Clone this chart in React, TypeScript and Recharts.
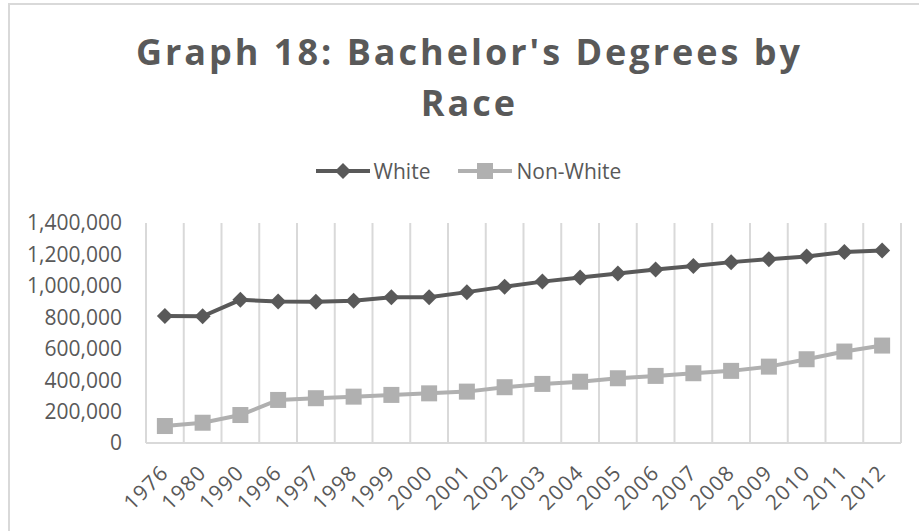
import React from "react";
import { LineChart, Line, XAxis, YAxis, CartesianGrid } from "recharts";

// Bachelor's degrees conferred, by race of student
const years = [
  "1976", "1980", "1990", "1996", "1997", "1998", "1999", "2000", "2001", "2002", "2003",
  "2004", "2005", "2006", "2007", "2008", "2009", "2010", "2011", "2012",
];
const white = [
  808000, 806000, 911000, 900000, 899000, 905000, 928000, 927000, 960000, 995000, 1027000,
  1053000, 1078000, 1104000, 1127000, 1151000, 1170000, 1187000, 1215000, 1225000,
];
const nonWhite = [
  108000, 129000, 178000, 274000, 285000, 295000, 306000, 316000, 327000, 355000, 376000,
  390000, 412000, 427000, 444000, 459000, 486000, 533000, 582000, 620000,
];
const yTicks = [0, 200000, 400000, 600000, 800000, 1000000, 1200000, 1400000];

const data = years.map((year, i) => ({ year, white: white[i], nonWhite: nonWhite[i] }));

const DARK = "#595959";
const LIGHT = "#b0b0b0";
const FONT = "'Open Sans', sans-serif";
const PLOT_W = 919 - 146 - 18;
const HALF_BAND = PLOT_W / years.length / 2;

function Diamond({ cx, cy }: any) {
  if (cx == null || cy == null) return null;
  const r = 8;
  return <polygon points={`${cx},${cy - r} ${cx + r},${cy} ${cx},${cy + r} ${cx - r},${cy}`} fill={DARK} />;
}

function Square({ cx, cy }: any) {
  if (cx == null || cy == null) return null;
  return <rect x={cx - 8} y={cy - 8} width={16} height={16} fill={LIGHT} />;
}

function YearTick({ x, y, payload }: any) {
  const ax = x + 5;
  const ay = y + 25;
  return (
    <text
      x={ax}
      y={ay}
      transform={`rotate(-45 ${ax} ${ay})`}
      textAnchor="end"
      fill={DARK}
      fontSize={21}
      letterSpacing={1.2}
      fontFamily={FONT}
    >
      {payload.value}
    </text>
  );
}

export default function App() {
  return (
    <div style={{ position: "absolute", left: 0, top: 0, width: 919, height: 531, background: "#fff", overflow: "hidden" }}>
      <div style={{ position: "absolute", left: 8, top: 3, width: 930, height: 560, border: "2px solid #d9d9d9" }} />
      <div
        style={{
          position: "absolute",
          left: 10,
          top: 26,
          width: 919,
          textAlign: "center",
          fontFamily: FONT,
          fontWeight: 700,
          fontSize: 36,
          letterSpacing: 3,
          lineHeight: "51px",
          color: DARK,
        }}
      >
        Graph 18: Bachelor's Degrees by
        <br />
        Race
      </div>
      <div
        style={{
          position: "absolute",
          top: 157,
          left: 9,
          width: 919,
          display: "flex",
          justifyContent: "center",
          alignItems: "center",
          fontFamily: FONT,
          fontSize: 21,
          color: DARK,
        }}
      >
        <svg width={54} height={20}>
          <line x1={0} y1={10} x2={54} y2={10} stroke={DARK} strokeWidth={4} />
          <polygon points="27,2 35,10 27,18 19,10" fill={DARK} />
        </svg>
        <span style={{ marginLeft: 4, marginRight: 28 }}>White</span>
        <svg width={54} height={20}>
          <line x1={0} y1={10} x2={54} y2={10} stroke={LIGHT} strokeWidth={4} />
          <rect x={19} y={2} width={16} height={16} fill={LIGHT} />
        </svg>
        <span style={{ marginLeft: 4 }}>Non-White</span>
      </div>
      <LineChart
        width={919}
        height={531}
        data={data}
        margin={{ top: 223, right: 18, bottom: 8, left: 0 }}
        style={{ position: "absolute", left: 0, top: 0 }}
      >
        <CartesianGrid
          horizontal={false}
          stroke="#d9d9d9"
          strokeWidth={2}
          verticalCoordinatesGenerator={({ offset }: any) =>
            years.map((_, i) => offset.left + ((i + 1) * offset.width) / years.length)
          }
        />
        <XAxis
          dataKey="year"
          interval={0}
          height={80}
          padding={{ left: HALF_BAND, right: HALF_BAND }}
          tickLine={false}
          tickMargin={0}
          axisLine={{ stroke: "#d9d9d9", strokeWidth: 2 }}
          tick={<YearTick />}
        />
        <YAxis
          domain={[0, 1400000]}
          ticks={yTicks}
          width={146}
          tickLine={false}
          tickMargin={18}
          axisLine={{ stroke: "#d9d9d9", strokeWidth: 2 }}
          tickFormatter={(v: number) => v.toLocaleString("en-US")}
          tick={{ fill: DARK, fontSize: 21, fontFamily: FONT }}
        />
        <Line dataKey="white" stroke={DARK} strokeWidth={4} dot={<Diamond />} isAnimationActive={false} />
        <Line dataKey="nonWhite" stroke={LIGHT} strokeWidth={4} dot={<Square />} isAnimationActive={false} />
      </LineChart>
    </div>
  );
}
